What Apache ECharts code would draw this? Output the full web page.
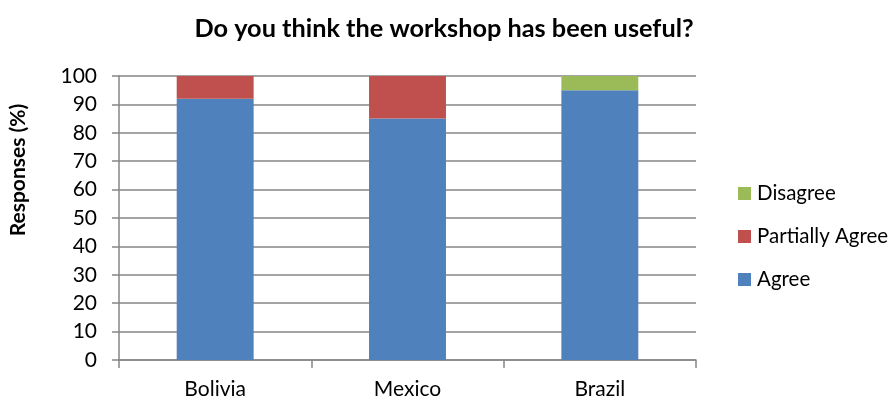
<!DOCTYPE html>
<html>
<head>
<meta charset="utf-8">
<script src="https://cdn.jsdelivr.net/npm/echarts@6/dist/echarts.min.js"></script>
<style>
  html, body { margin: 0; padding: 0; background: #fff; }
  #chart { width: 891px; height: 401px; }
</style>
</head>
<body>
<div id="chart"></div>
<script>
// Survey responses per country (percent of respondents)
const countries = ['Bolivia', 'Mexico', 'Brazil'];
const agree = [92, 85, 95];
const partiallyAgree = [8, 15, 0];
const disagree = [0, 0, 5];
const yTicks = { min: 0, max: 100, step: 10 };

const FONT = 'Lato, "Open Sans", sans-serif';
const gridColor = '#868686';

const chart = echarts.init(document.getElementById('chart'), null, { renderer: 'canvas' });

function barSeries(name, values, color) {
  return {
    name: name,
    type: 'bar',
    stack: 'total',
    barWidth: '40%',
    data: values,
    itemStyle: { color: color },
    emphasis: { disabled: true }
  };
}

chart.setOption({
  animation: false,
  backgroundColor: '#ffffff',
  title: {
    text: 'Do you think the workshop has been useful?',
    left: 439,
    top: 11,
    textAlign: 'center',
    textStyle: { fontFamily: FONT, fontSize: 25.3, fontWeight: 'bold', color: '#000' }
  },
  legend: {
    orient: 'vertical',
    left: 738,
    top: 183,
    padding: 0,
    itemWidth: 13,
    itemHeight: 13,
    itemGap: 22,
    icon: 'rect',
    data: ['Disagree', 'Partially Agree', 'Agree'],
    textStyle: { fontFamily: FONT, fontSize: 20.5, color: '#000', padding: [0, 0, 0, 1] }
  },
  grid: { left: 118, right: 195, top: 76, bottom: 41, containLabel: false },
  xAxis: {
    type: 'category',
    data: countries,
    axisLine: { show: true, lineStyle: { color: gridColor, width: 1.5 } },
    axisTick: { show: true, alignWithLabel: false, length: 8, lineStyle: { color: gridColor, width: 1.5 } },
    axisLabel: { fontFamily: FONT, fontSize: 21, color: '#000', margin: 19 }
  },
  yAxis: {
    type: 'value',
    min: yTicks.min,
    max: yTicks.max,
    interval: yTicks.step,
    name: 'Responses (%)',
    nameLocation: 'middle',
    nameGap: 90,
    nameRotate: 90,
    nameTextStyle: { fontFamily: FONT, fontSize: 21, fontWeight: 'bold', color: '#000', padding: [0, 0, 0, 96] },
    axisLine: { show: true, lineStyle: { color: gridColor, width: 1.5 } },
    axisTick: { show: true, length: 7, lineStyle: { color: gridColor, width: 1.5 } },
    axisLabel: { fontFamily: FONT, fontSize: 21, color: '#000', margin: 22 },
    splitLine: { show: true, lineStyle: { color: gridColor, width: 1.5 } }
  },
  series: [
    barSeries('Agree', agree, '#4F81BD'),
    barSeries('Partially Agree', partiallyAgree, '#C0504D'),
    barSeries('Disagree', disagree, '#9BBB59')
  ]
});
</script>
</body>
</html>
